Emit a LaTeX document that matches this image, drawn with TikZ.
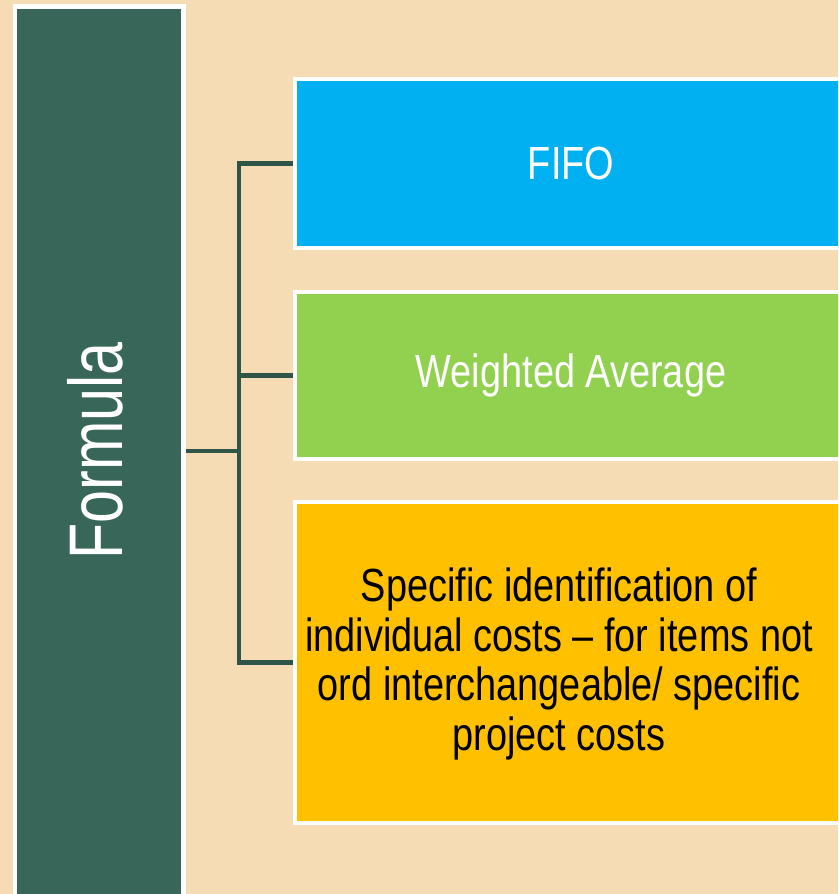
\documentclass[tikz,border=0pt]{standalone}
\usepackage{fontspec}
\newfontfamily\narrowsans[FakeStretch=0.815]{Liberation Sans}
\newfontfamily\formulafont[FakeStretch=0.78]{Liberation Sans}
\definecolor{bgc}{RGB}{245,220,181}
\definecolor{darkgreen}{RGB}{56,102,88}
\definecolor{connc}{RGB}{47,84,72}
\definecolor{bluec}{RGB}{0,176,240}
\definecolor{lgreen}{RGB}{146,208,80}
\definecolor{yellowc}{RGB}{255,192,0}
\tikzset{
  box/.style={rectangle, draw=white, line width=4.4pt, inner sep=0pt},
  boxtext/.style={font=\narrowsans\fontsize{46.5}{49.4}\selectfont, inner sep=0pt, align=center},
  conn/.style={draw=connc, line width=4.3pt, line join=miter}
}
\begin{document}
\begin{tikzpicture}[x=1pt,y=-1pt]
\useasboundingbox (0,0) rectangle (838,894);
\fill[bgc] (0,0) rectangle (838,894);
\begin{scope}
\clip (0,0) rectangle (838,894);
% left box
\node[box, fill=darkgreen, minimum width=168.3pt, minimum height=901pt] (formula) at (99.35,457) {};
\node[rotate=90, inner sep=0pt, text=white, font=\formulafont\fontsize{76}{80}\selectfont] (formulatext) at (95.2,451) {Formula};
% right boxes
\node[box, fill=bluec, minimum width=552pt, minimum height=169.3pt, text=white, font=\narrowsans\fontsize{46.5}{49.4}\selectfont] (fifo) at (571,163.5) {FIFO};
\node[box, fill=lgreen, minimum width=552pt, minimum height=166.6pt, text=white, font=\narrowsans\fontsize{46.5}{49.4}\selectfont] (wavg) at (571,375.5) {Weighted Average};
\node[box, fill=yellowc, minimum width=552pt, minimum height=320.6pt] (spec) at (571,662.5) {};
\node[boxtext, text=black] (spectext) at (559,664) {Specific identification of\\individual costs – for items not\\ord interchangeable/ specific\\project costs};
% connectors
\coordinate (hub) at (239.3,451);
\draw[conn] (formula.east |- hub) -- (hub);
\draw[conn] (fifo.west) -| (hub) |- (spec.west);
\draw[conn] (hub |- wavg.west) -- (wavg.west);
\end{scope}
\end{tikzpicture}
\end{document}
